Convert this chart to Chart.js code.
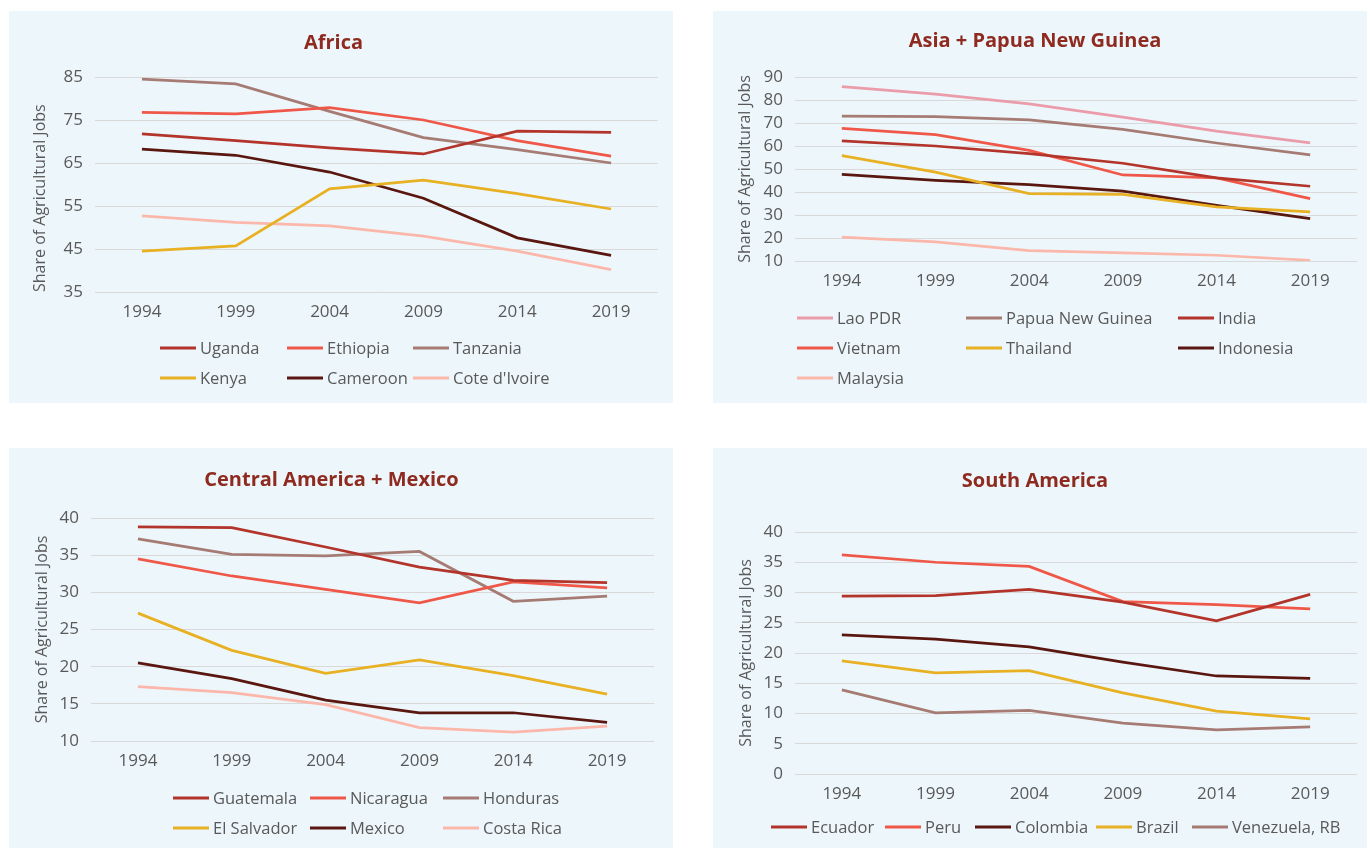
<!DOCTYPE html>
<html>
<head>
<meta charset="utf-8">
<title>Share of Agricultural Jobs</title>
<script src="https://cdn.jsdelivr.net/npm/chart.js@4.4.1/dist/chart.umd.min.js"></script>
<style>
  body { margin: 0; background: #ffffff; width: 1367px; height: 849px; position: relative; overflow: hidden; }
  .panel { position: absolute; background: #edf7fb; }
  #pAfrica { left: 9px; top: 11px; width: 664px; height: 392px; }
  #pAsia { left: 713px; top: 11px; width: 654px; height: 392px; }
  #pCentral { left: 9px; top: 448px; width: 664px; height: 400px; }
  #pSouth { left: 713px; top: 448px; width: 654px; height: 400px; }
</style>
</head>
<body>
<div class="panel" id="pAfrica"><canvas id="africaChart"></canvas></div>
<div class="panel" id="pAsia"><canvas id="asiaChart"></canvas></div>
<div class="panel" id="pCentral"><canvas id="centralChart"></canvas></div>
<div class="panel" id="pSouth"><canvas id="southChart"></canvas></div>

<script>
// Anos (eixo x comum)
var years = ['1994', '1999', '2004', '2009', '2014', '2019'];

// Africa
var uganda = [71.8, 70.2, 68.5, 67.1, 72.4, 72.1];
var ethiopia = [76.8, 76.4, 77.9, 75.0, 70.2, 66.6];
var tanzania = [84.5, 83.4, 77.0, 70.9, 68.1, 65.0];
var kenya = [44.5, 45.7, 59.0, 61.0, 57.9, 54.3];
var cameroon = [68.2, 66.8, 62.9, 56.8, 47.6, 43.5];
var coteDivoire = [52.7, 51.2, 50.4, 48.0, 44.5, 40.2];
var africaTicks = [35, 45, 55, 65, 75, 85];

// Asia + Papua New Guinea
var laoPdr = [85.8, 82.6, 78.3, 72.6, 66.5, 61.4];
var papuaNewGuinea = [73.0, 72.8, 71.4, 67.2, 61.3, 56.1];
var india = [62.2, 60.0, 56.7, 52.5, 46.1, 42.5];
var vietnam = [67.7, 64.9, 58.1, 47.4, 46.1, 37.1];
var thailand = [55.8, 48.6, 39.3, 39.0, 33.5, 31.4];
var indonesia = [47.7, 45.1, 43.2, 40.4, 34.2, 28.4];
var malaysia = [20.4, 18.3, 14.5, 13.5, 12.5, 10.3];
var asiaTicks = [10, 20, 30, 40, 50, 60, 70, 80, 90];

// Central America + Mexico
var guatemala = [38.8, 38.7, 36.1, 33.4, 31.6, 31.3];
var nicaragua = [34.5, 32.2, 30.4, 28.6, 31.4, 30.6];
var honduras = [37.2, 35.1, 34.9, 35.5, 28.8, 29.5];
var elSalvador = [27.2, 22.2, 19.1, 20.9, 18.8, 16.3];
var mexico = [20.5, 18.4, 15.5, 13.8, 13.8, 12.5];
var costaRica = [17.3, 16.5, 14.9, 11.8, 11.2, 12.0];
var centralTicks = [10, 15, 20, 25, 30, 35, 40];

// South America
var ecuador = [29.4, 29.5, 30.5, 28.4, 25.3, 29.7];
var peru = [36.2, 35.0, 34.3, 28.5, 28.0, 27.3];
var colombia = [23.0, 22.3, 21.0, 18.5, 16.2, 15.8];
var brazil = [18.7, 16.7, 17.1, 13.4, 10.4, 9.1];
var venezuela = [13.9, 10.1, 10.5, 8.4, 7.3, 7.8];
var southTicks = [0, 5, 10, 15, 20, 25, 30, 35, 40];

// Cores
var darkRed = '#b3342a';
var coral = '#ef5848';
var mauve = '#a67b74';
var gold = '#e8b023';
var darkBrown = '#5a1710';
var peach = '#fcb7ab';
var pink = '#eb9cab';
var textGray = '#595959';

// Legenda em grade (colunas alinhadas como no Excel)
var gridLegend = {
  id: 'gridLegend',
  afterDraw: function(chart, args, opts) {
    var ctx = chart.ctx;
    ctx.save();
    ctx.font = '16.5px "Open Sans"';
    ctx.textBaseline = 'middle';
    ctx.textAlign = 'left';
    chart.data.datasets.forEach(function(ds, i) {
      var x = opts.cols[i % opts.cols.length];
      var y = opts.rows[Math.floor(i / opts.cols.length)];
      ctx.fillStyle = ds.borderColor;
      ctx.fillRect(x, y - 1.5, 36, 3);
      ctx.fillStyle = textGray;
      ctx.fillText(ds.label, x + 40, y + 1);
    });
    ctx.restore();
  }
};

function makeChart(id, cfg) {
  var ctx = document.getElementById(id).getContext('2d');
  return new Chart(ctx, {
    type: 'line',
    data: {
      labels: years,
      datasets: cfg.series.map(function(s) {
        return {
          label: s[0],
          data: s[1],
          borderColor: s[2],
          backgroundColor: s[2],
          borderWidth: 2.75,
          pointRadius: 0,
          tension: 0,
          fill: false
        };
      })
    },
    options: {
      responsive: true,
      maintainAspectRatio: false,
      animation: false,
      layout: {
        padding: { left: 0, right: cfg.padRight, top: 0, bottom: 0 }
      },
      plugins: {
        legend: { display: false },
        tooltip: { enabled: false },
        title: {
          display: true,
          text: cfg.title,
          color: '#8e2a1f',
          font: { family: 'Open Sans', size: 20, weight: 'bold' },
          padding: { top: cfg.titleTop, bottom: cfg.titleBottom }
        },
        gridLegend: { cols: cfg.cols, rows: cfg.rows }
      },
      scales: {
        x: {
          offset: true,
          grid: { display: false, drawTicks: false },
          border: { display: false },
          ticks: {
            color: textGray,
            padding: 10,
            maxRotation: 0,
            font: { family: 'Open Sans', size: 17 }
          },
          afterFit: function(s) { s.height = cfg.xHeight; }
        },
        y: {
          min: cfg.ticks[0],
          max: cfg.ticks[cfg.ticks.length - 1],
          grid: { color: '#d9d9d9', lineWidth: 1, drawTicks: false },
          border: { display: false },
          ticks: {
            color: textGray,
            padding: 12,
            autoSkip: false,
            font: { family: 'Open Sans', size: 17 }
          },
          afterBuildTicks: function(s) {
            s.ticks = cfg.ticks.map(function(v) { return { value: v }; });
          },
          afterFit: function(s) { s.width = cfg.yWidth; },
          title: {
            display: true,
            text: 'Share of Agricultural Jobs',
            color: textGray,
            align: cfg.yTitleAlign,
            font: { family: 'Open Sans', size: 16 },
            padding: { top: cfg.yTitlePad, bottom: 0 }
          }
        }
      }
    },
    plugins: [gridLegend]
  });
}

document.addEventListener('DOMContentLoaded', function() {
  makeChart('africaChart', {
    title: 'Africa',
    series: [
      ['Uganda', uganda, darkRed],
      ['Ethiopia', ethiopia, coral],
      ['Tanzania', tanzania, mauve],
      ['Kenya', kenya, gold],
      ['Cameroon', cameroon, darkBrown],
      ["Cote d'Ivoire", coteDivoire, peach]
    ],
    ticks: africaTicks,
    padRight: 15, titleTop: 20, titleBottom: 22, xHeight: 111, yWidth: 86,
    yTitleAlign: 'start', yTitlePad: 22,
    cols: [151, 278, 404], rows: [337, 367]
  });

  makeChart('asiaChart', {
    title: 'Asia + Papua New Guinea',
    series: [
      ['Lao PDR', laoPdr, pink],
      ['Papua New Guinea', papuaNewGuinea, mauve],
      ['India', india, darkRed],
      ['Vietnam', vietnam, coral],
      ['Thailand', thailand, gold],
      ['Indonesia', indonesia, darkBrown],
      ['Malaysia', malaysia, peach]
    ],
    ticks: asiaTicks,
    padRight: 10, titleTop: 18, titleBottom: 24, xHeight: 142, yWidth: 82,
    yTitleAlign: 'center', yTitlePad: 23,
    cols: [84, 253, 465], rows: [307, 337, 367]
  });

  makeChart('centralChart', {
    title: 'Central America + Mexico',
    series: [
      ['Guatemala', guatemala, darkRed],
      ['Nicaragua', nicaragua, coral],
      ['Honduras', honduras, mauve],
      ['El Salvador', elSalvador, gold],
      ['Mexico', mexico, darkBrown],
      ['Costa Rica', costaRica, peach]
    ],
    ticks: centralTicks,
    padRight: 19, titleTop: 20, titleBottom: 26, xHeight: 107, yWidth: 82,
    yTitleAlign: 'center', yTitlePad: 24,
    cols: [164, 301, 434], rows: [350, 380]
  });

  makeChart('southChart', {
    title: 'South America',
    series: [
      ['Ecuador', ecuador, darkRed],
      ['Peru', peru, coral],
      ['Colombia', colombia, darkBrown],
      ['Brazil', brazil, gold],
      ['Venezuela, RB', venezuela, mauve]
    ],
    ticks: southTicks,
    padRight: 10, titleTop: 21, titleBottom: 39, xHeight: 74, yWidth: 82,
    yTitleAlign: 'center', yTitlePad: 24,
    cols: [58, 172, 262, 383, 479], rows: [379]
  });
});
</script>
</body>
</html>
